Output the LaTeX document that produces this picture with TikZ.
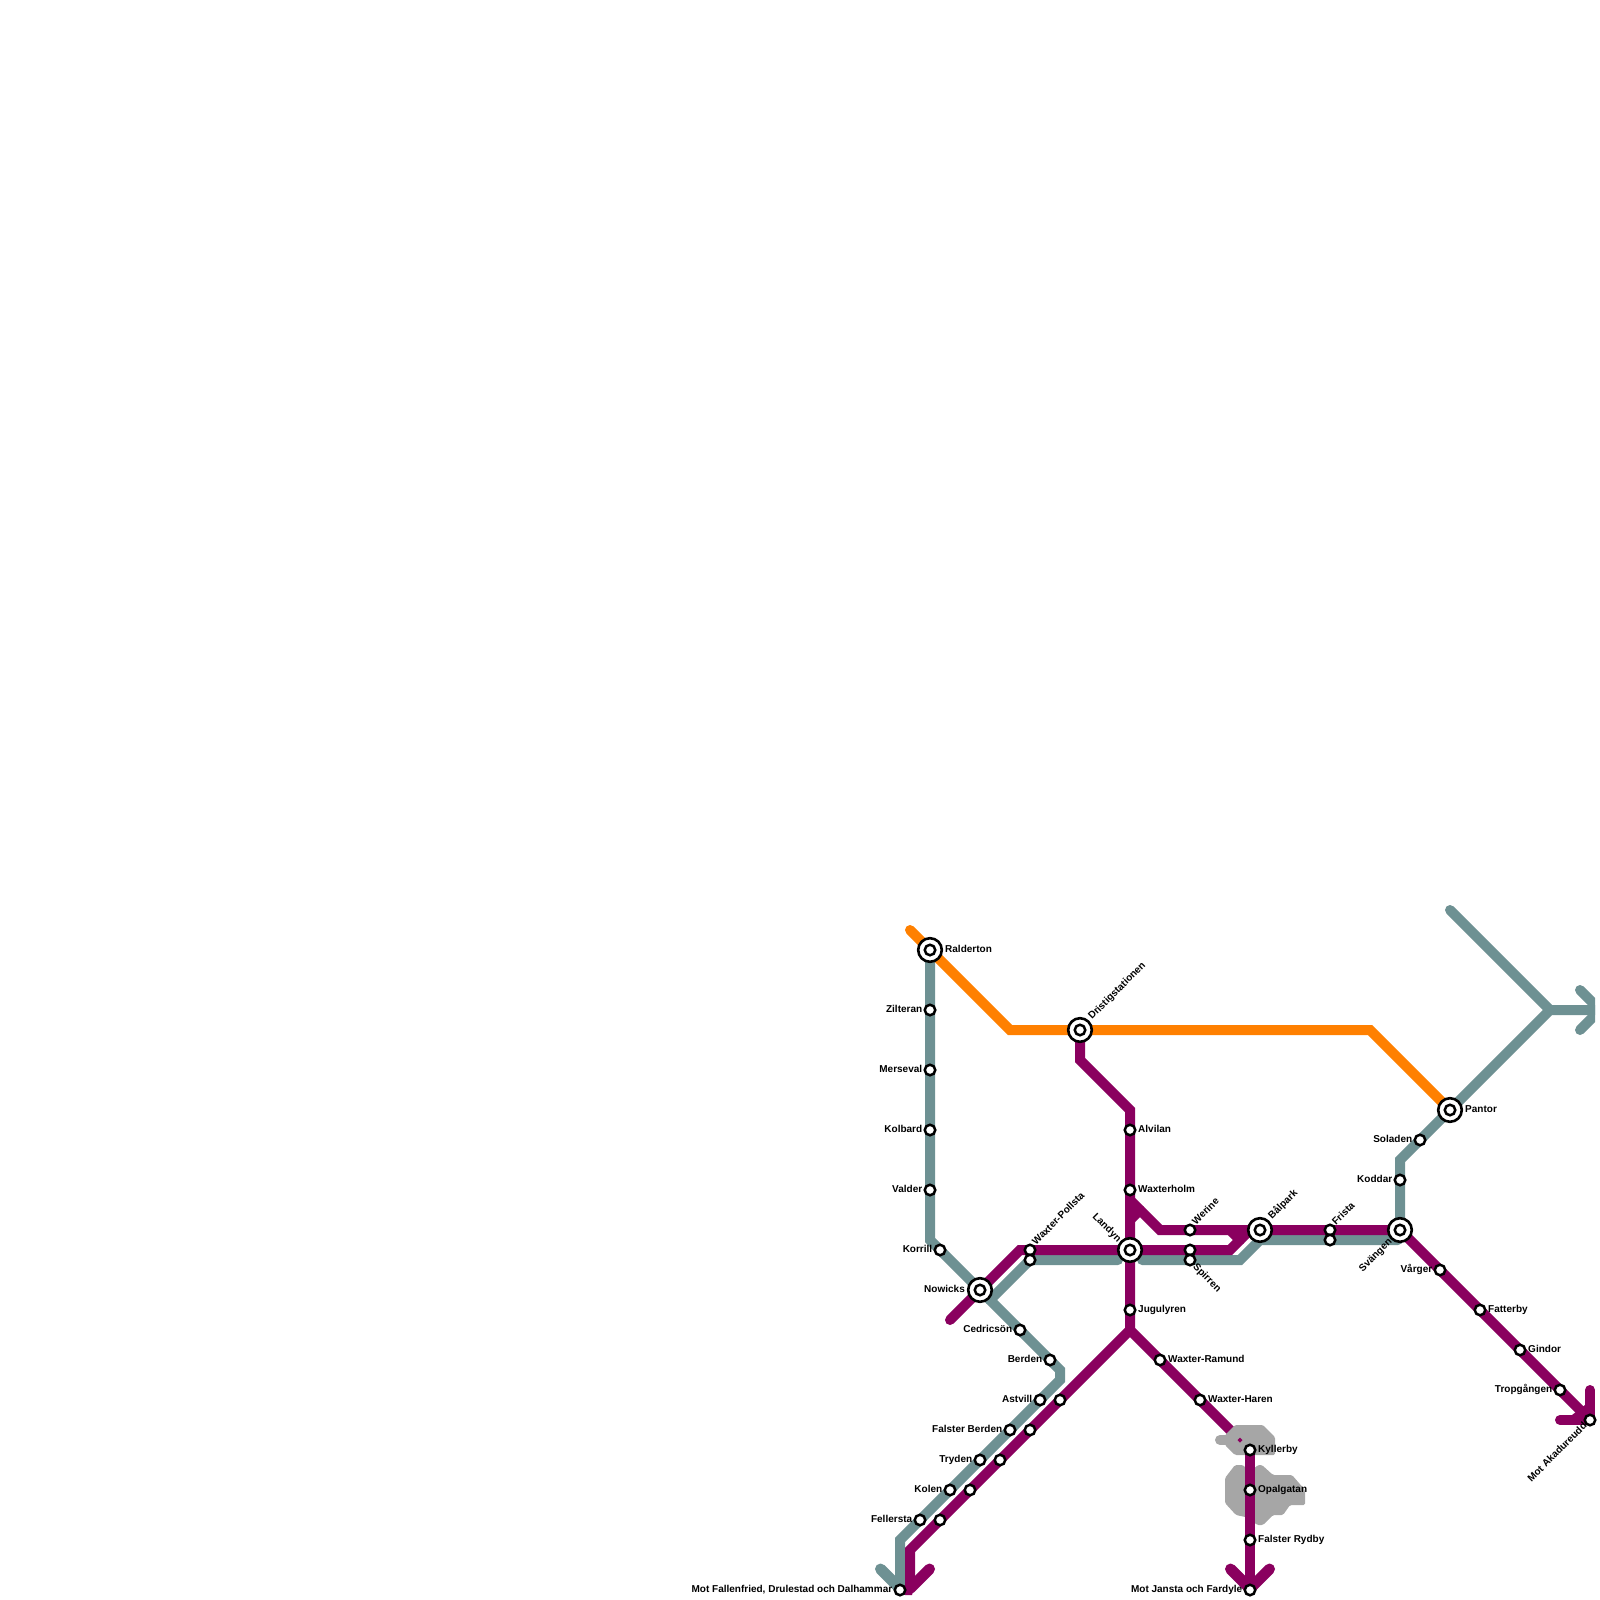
\documentclass[tikz,border=0pt]{standalone}
\usepackage{fontspec}
\setmainfont{Liberation Sans}
\pgfdeclarelayer{lines}
\pgfsetlayers{lines,main}
\definecolor{metroteal}{HTML}{6E9193}
\definecolor{metropurple}{HTML}{8A005F}
\definecolor{metroorange}{HTML}{FF8000}
\definecolor{metrogrey}{HTML}{A6A6A6}
\tikzset{
  route/.style={line width=10pt,line cap=round,line join=miter,miter limit=10},
  tealroute/.style={route,draw=metroteal},
  purpleroute/.style={route,draw=metropurple},
  orangeroute/.style={route,draw=metroorange},
  barb/.style={line width=11pt},
  stationdot/.style={circle,draw=black,fill=white,line width=2.5pt,minimum size=10.5pt,inner sep=0pt},
  hubring/.style={circle,draw=black,fill=white,line width=2.6pt,minimum size=23.6pt,inner sep=0pt},
  lab/.style={font=\bfseries\fontsize{10pt}{12pt}\selectfont,inner sep=0pt,text=black},
  labr/.style={lab,anchor=base west},
  labl/.style={lab,anchor=base east},
}
\newcommand{\stn}[3]{\node[stationdot] (#1) at (#2,#3) {};}
\newcommand{\hub}[3]{\node[hubring] (#1) at (#2,#3) {};\node[stationdot] (#1core) at (#1.center) {};}
\newcommand{\rlab}[2]{\node[labr] (#1lab) at ([xshift=8pt,yshift=-2.7pt]#1.center) {#2};}
\newcommand{\llab}[2]{\node[labl] (#1lab) at ([xshift=-7.6pt,yshift=-2.7pt]#1.center) {#2};}
\begin{document}
\begin{tikzpicture}[x=1pt,y=-1pt]
\useasboundingbox (0,0) rectangle (1600,1600);
% stations
\hub{ralderton}{930}{950}
\stn{zilteran}{930}{1010}
\stn{merseval}{930}{1070}
\stn{kolbard}{930}{1130}
\stn{valder}{930}{1190}
\stn{korrill}{940}{1250}
\hub{nowicks}{980}{1290}
\stn{cedricson}{1020}{1330}
\stn{berden}{1050}{1360}
\stn{astvill}{1040}{1400}
\stn{astvillb}{1060}{1400}
\stn{falsterberden}{1010}{1430}
\stn{falsterberdenb}{1030}{1430}
\stn{tryden}{980}{1460}
\stn{trydenb}{1000}{1460}
\stn{kolen}{950}{1490}
\stn{kolenb}{970}{1490}
\stn{fellersta}{920}{1520}
\stn{fellerstab}{940}{1520}
\stn{motfallen}{900}{1590}
\hub{dristig}{1080}{1030}
\stn{alvilan}{1130}{1130}
\stn{waxterholm}{1130}{1190}
\hub{landyn}{1130}{1250}
\stn{pollsta}{1030}{1250}
\stn{pollstab}{1030}{1260}
\stn{werine}{1190}{1230}
\stn{spirrenb}{1190}{1250}
\stn{spirren}{1190}{1260}
\hub{balpark}{1260}{1230}
\stn{frista}{1330}{1230}
\stn{fristab}{1330}{1240}
\hub{svangen}{1400}{1230}
\stn{koddar}{1400}{1180}
\stn{soladen}{1420}{1140}
\hub{pantor}{1450}{1110}
\stn{varger}{1440}{1270}
\stn{fatterby}{1480}{1310}
\stn{gindor}{1520}{1350}
\stn{tropgangen}{1560}{1390}
\stn{akadureudd}{1590}{1420}
\stn{jugulyren}{1130}{1310}
\stn{ramund}{1160}{1360}
\stn{haren}{1200}{1400}
\stn{kyllerby}{1250}{1450}
\stn{opalgatan}{1250}{1490}
\stn{rydby}{1250}{1540}
\stn{motjansta}{1250}{1590}
% bends and free ends
\coordinate (oa) at (910,930);
\coordinate (ob) at (1010,1030);
\coordinate (oc) at (1370,1030);
\coordinate (ta) at (930,1240);
\coordinate (tb) at (1060,1370);
\coordinate (tc) at (1060,1380);
\coordinate (td) at (900,1540);
\coordinate (te) at (880.5,1569);
\coordinate (tex) at (900,1588.5);
\coordinate (tf) at (990,1300);
\coordinate (tg) at (1030,1260);
\coordinate (th) at (1118,1260);
\coordinate (ti) at (1142,1260);
\coordinate (tj) at (1240,1260);
\coordinate (tk) at (1260,1240);
\coordinate (tl) at (1398,1240);
\coordinate (tm) at (1400,1160);
\coordinate (tn) at (1550,1010);
\coordinate (to) at (1600,1010);
\coordinate (tp) at (1450,910);
\coordinate (tq) at (1580,990);
\coordinate (tr) at (1580,1030);
\coordinate (pa) at (1080,1060);
\coordinate (pb) at (1130,1110);
\coordinate (pc) at (1130,1330);
\coordinate (pd) at (1240,1440);
\coordinate (pe) at (910,1550);
\coordinate (pf) at (910,1588.5);
\coordinate (pg) at (929.5,1569);
\coordinate (ph) at (950,1320);
\coordinate (pi) at (1020,1250);
\coordinate (pj) at (1230,1250);
\coordinate (pu) at (1250,1230);
\coordinate (pk) at (1130,1200);
\coordinate (pl) at (1160,1230);
\coordinate (pm) at (1130,1220);
\coordinate (pn) at (1140,1210);
\coordinate (po) at (1230,1230);
\coordinate (pp) at (1240,1240);
\coordinate (pq) at (1590,1390);
\coordinate (pr) at (1560,1420);
\coordinate (ps) at (1230.5,1569);
\coordinate (pt) at (1269.5,1569);
\coordinate (psx) at (1250,1588.5);
\coordinate (ga) at (1220,1440);
\coordinate (gb) at (1240,1440);
\begin{pgfonlayer}{lines}
\begin{scope}
\clip (0,0) rectangle (1595,1595);
% teal
\draw[tealroute] (ralderton.center) -- (ta) -- (tb) -- (tc) -- (td) -- (motfallen.center);
\draw[tealroute,barb] (te) -- (tex);
\draw[tealroute] (tf) -- (tg) -- (th);
\draw[tealroute] (ti) -- (tj) -- (tk) -- (tl);
\draw[tealroute] (svangen.center) -- (tm) -- (tn) -- (to);
\draw[tealroute] (tp) -- (tn);
\draw[tealroute] (tq) -- (to) -- (tr);
% orange
\draw[orangeroute] (oa) -- (ob) -- (oc) -- (pantor.center);
% purple
\draw[purpleroute] (dristig.center) -- (pa) -- (pb) -- (pc) -- (pd);
\draw[purpleroute] (pc) -- (pe) -- (pf);
\draw[purpleroute,barb] (pg) -- (pf);
\fill[metropurple] (905,1585) -- (905,1595) -- (912,1595) -- (915,1585) -- cycle;
\draw[purpleroute] (ph) -- (pi) -- (pj) -- (pu);
\draw[purpleroute] (pk) -- (pl) -- (svangen.center) -- (akadureudd.center);
\draw[purpleroute] (pm) -- (pn);
\draw[purpleroute] (po) -- (pp);
\draw[purpleroute] (pq) -- (akadureudd.center) -- (pr);
\fill[metropurple] (1585,1405) -- (1572,1415) -- (1590,1420) -- cycle;
% grey areas
\draw[route,draw=metrogrey] (ga) -- (gb);
\fill[metrogrey,rounded corners=1.5pt] (1235,1425) -- (1263,1425) -- (1275,1437) -- (1275,1455) -- (1235,1455) -- (1225,1445) -- (1225,1435) -- cycle;
\fill[metrogrey,rounded corners=1.5pt] (1225,1478) -- (1235,1465) -- (1243,1465) -- (1250,1472) -- (1258,1465) -- (1262,1465) -- (1273,1475) -- (1292,1475) -- (1305,1490) -- (1305,1505) -- (1290,1505) -- (1283,1515) -- (1273,1515) -- (1263,1525) -- (1257,1525) -- (1250,1518) -- (1236,1515) -- (1225,1503) -- cycle;
\fill[metropurple] (gb) ++(0,-2.5) -- ++(2.5,2.5) -- ++(-2.5,2.5) -- ++(-2.5,-2.5) -- cycle;
\draw[purpleroute] (kyllerby.center) -- (motjansta.center);
\draw[purpleroute,barb] (ps) -- (psx) -- (pt);
\end{scope}
\end{pgfonlayer}
% labels, right of the line
\node[labr] (ralderton lab) at ([xshift=15pt,yshift=-2pt]ralderton.center) {Ralderton};
\node[labr] (pantorlab) at ([xshift=15pt,yshift=-2pt]pantor.center) {Pantor};
\rlab{alvilan}{Alvilan}
\rlab{waxterholm}{Waxterholm}
\rlab{jugulyren}{Jugulyren}
\rlab{ramund}{Waxter-Ramund}
\rlab{haren}{Waxter-Haren}
\rlab{kyllerby}{Kyllerby}
\rlab{opalgatan}{Opalgatan}
\rlab{rydby}{Falster Rydby}
\rlab{fatterby}{Fatterby}
\rlab{gindor}{Gindor}
% labels, left of the line
\llab{zilteran}{Zilteran}
\llab{merseval}{Merseval}
\llab{kolbard}{Kolbard}
\llab{valder}{Valder}
\llab{korrill}{Korrill}
\node[labl] (nowickslab) at ([xshift=-15pt,yshift=-2.7pt]nowicks.center) {Nowicks};
\llab{cedricson}{Cedricsön}
\llab{berden}{Berden}
\llab{astvill}{Astvill}
\llab{falsterberden}{Falster Berden}
\llab{tryden}{Tryden}
\llab{kolen}{Kolen}
\llab{fellersta}{Fellersta}
\llab{motfallen}{Mot Fallenfried, Drulestad och Dalhammar}
\llab{motjansta}{Mot Jansta och Fardyle}
\llab{koddar}{Koddar}
\llab{soladen}{Soladen}
\llab{varger}{Vårger}
\llab{tropgangen}{Tropgången}
% rotated labels
\node[labr,rotate=45] (dristiglab) at ([xshift=12pt,yshift=10pt]dristig.center) {Dristigstationen};
\node[labr,rotate=45] (pollstalab) at ([xshift=6pt,yshift=4.5pt]pollsta.center) {Waxter-Pollsta};
\node[labr,rotate=45] (werinelab) at ([xshift=6pt,yshift=4.5pt]werine.center) {Werine};
\node[labr,rotate=45] (balparklab) at ([xshift=12pt,yshift=10pt]balpark.center) {Bålpark};
\node[labr,rotate=45] (fristalab) at ([xshift=6pt,yshift=4.5pt]frista.center) {Frista};
\node[labr,rotate=-45] (spirrenlab) at ([xshift=2.5pt,yshift=-7.5pt]spirren.center) {Spirren};
\node[labl,rotate=-45] (landynlab) at ([xshift=-12.5pt,yshift=7.5pt]landyn.center) {Landyn};
\node[labl,rotate=45] (svangenlab) at ([xshift=-7.5pt,yshift=-12.5pt]svangen.center) {Svängen};
\node[labl,rotate=45] (akalab) at ([xshift=-2.5pt,yshift=-6.5pt]akadureudd.center) {Mot Akadureudd};
\end{tikzpicture}
\end{document}
